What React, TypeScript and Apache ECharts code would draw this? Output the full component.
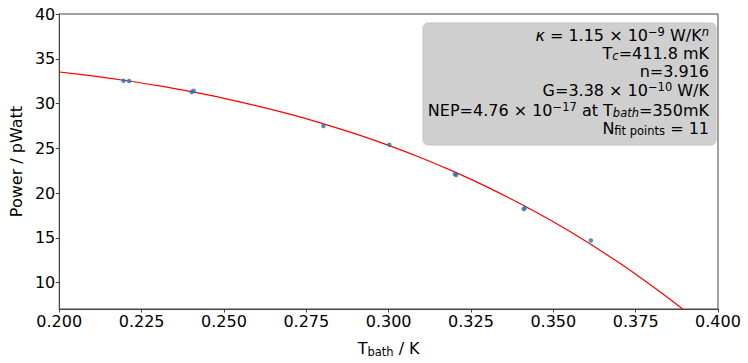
import React, { useEffect, useRef } from "react";
import * as echarts from "echarts";

// Measured data points (T_bath in K, Power in pW)
const tBath = [0.2195, 0.2212, 0.2402, 0.2408, 0.2802, 0.3002, 0.3201, 0.3205, 0.341, 0.3414, 0.3614];
const power = [32.55, 32.52, 31.28, 31.43, 27.48, 25.4, 22.11, 22.0, 18.2, 18.34, 14.69];

// Fit curve
const fitT = [0.2, 0.21, 0.22, 0.23, 0.24, 0.25, 0.26, 0.27, 0.28, 0.29, 0.3, 0.31, 0.32, 0.33, 0.34, 0.35, 0.36, 0.37, 0.375, 0.38, 0.385, 0.39, 0.4];
const fitP = [33.52, 33.08, 32.57, 31.99, 31.32, 30.58, 29.74, 28.81, 27.76, 26.6, 25.32, 23.91, 22.36, 20.66, 18.8, 16.78, 14.58, 12.2, 10.93, 9.62, 8.25, 6.83, 3.83];

const yTicks = [10, 15, 20, 25, 30, 35, 40];

const FONT = "DejaVu Sans";

export default function App() {
  const ref = useRef<HTMLDivElement>(null);
  useEffect(() => {
    if (!ref.current) return;
    const chart = echarts.init(ref.current, undefined, { renderer: "svg" });
    const axisColor = "#444";
    const mainStyle = { fontFamily: FONT, fontSize: 16, color: "#000", lineHeight: 18, verticalAlign: "middle" as const };
    const supStyle = { fontFamily: FONT, fontSize: 11.5, color: "#000", lineHeight: 5, verticalAlign: "top" as const };
    const subStyle = { fontFamily: FONT, fontSize: 11.5, color: "#000", lineHeight: 7, verticalAlign: "bottom" as const };
    const rich = {
      m: mainStyle,
      mi: { ...mainStyle, fontStyle: "italic" as const },
      sup: supStyle,
      supi: { ...supStyle, fontStyle: "italic" as const },
      sub: subStyle,
      subi: { ...subStyle, fontStyle: "italic" as const },
    };
    const lines = [
      { y: 35, text: "{mi|κ}{m| = 1.15 × 10}{sup|−9}{m| W/K}{supi|n}" },
      { y: 53, text: "{m|T}{subi|c}{m|=411.8 mK}" },
      { y: 71, text: "{m|n=3.916}" },
      { y: 90, text: "{m|G=3.38 × 10}{sup|−10}{m| W/K}" },
      { y: 110, text: "{m|NEP=4.76 × 10}{sup|−17}{m| at T}{subi|bath}{m|=350mK}" },
      { y: 128, text: "{m|N}{sub|fit points}{m| = 11}" },
    ];
    chart.setOption({
      animation: false,
      backgroundColor: "#fff",
      grid: { left: 52, right: 30, top: 14, bottom: 48, show: true, borderColor: axisColor, borderWidth: 1, backgroundColor: "transparent" },
      xAxis: {
        type: "value",
        min: 0.2,
        max: 0.4,
        interval: 0.025,
        axisLine: { show: true, lineStyle: { color: axisColor, width: 1 } },
        axisTick: { show: true, inside: false, length: 3.5, lineStyle: { color: axisColor } },
        splitLine: { show: false },
        axisLabel: {
          fontFamily: FONT,
          fontSize: 16,
          color: "#000",
          margin: 4,
          formatter: (v: number) => v.toFixed(3),
        },
        name: "{m|T}{s|bath}{m| / K}",
        nameLocation: "middle",
        nameGap: 29,
        nameTextStyle: {
          fontFamily: FONT,
          fontSize: 16,
          color: "#000",
          rich: {
            m: { fontFamily: FONT, fontSize: 16, color: "#000", lineHeight: 20, verticalAlign: "middle" },
            s: { fontFamily: FONT, fontSize: 11.5, color: "#000", lineHeight: 9, verticalAlign: "bottom" },
          },
        },
      },
      yAxis: {
        type: "value",
        min: 7.04,
        max: 40,
        axisLine: { show: true, lineStyle: { color: axisColor, width: 1 } },
        axisTick: { show: true, inside: false, length: 3.5, lineStyle: { color: axisColor }, customValues: yTicks },
        splitLine: { show: false },
        axisLabel: { fontFamily: FONT, fontSize: 16, color: "#000", margin: 4, customValues: yTicks },
        name: "Power / pWatt",
        nameLocation: "middle",
        nameGap: 22,
        nameRotate: 90,
        nameTextStyle: { fontFamily: FONT, fontSize: 16, color: "#000" },
      },
      series: [
        {
          type: "line",
          data: fitT.map((t, i) => [t, fitP[i]]),
          showSymbol: false,
          smooth: 0.3,
          clip: true,
          lineStyle: { color: "#ff0000", width: 1.2 },
          z: 2,
        },
        {
          type: "scatter",
          data: tBath.map((t, i) => [t, power[i]]),
          symbol: "circle",
          symbolSize: 4.5,
          itemStyle: { color: "#1f77b4" },
          z: 3,
        },
      ],
      graphic: [
        {
          type: "rect",
          shape: { x: 423, y: 23, width: 293, height: 122, r: 5 },
          style: { fill: "#cfcfcf", stroke: "#c4c4c4", lineWidth: 1 },
          z: 10,
        },
        ...lines.map((l) => ({
          type: "text",
          x: 709,
          y: l.y,
          z: 11,
          style: {
            text: l.text,
            rich,
            align: "right",
            verticalAlign: "middle",
            fontFamily: FONT,
            fontSize: 16,
            fill: "#000",
          },
        })),
      ],
    });
    return () => chart.dispose();
  }, []);
  return <div ref={ref} style={{ position: "fixed", left: 0, top: 0, width: 748, height: 363 }} />;
}
